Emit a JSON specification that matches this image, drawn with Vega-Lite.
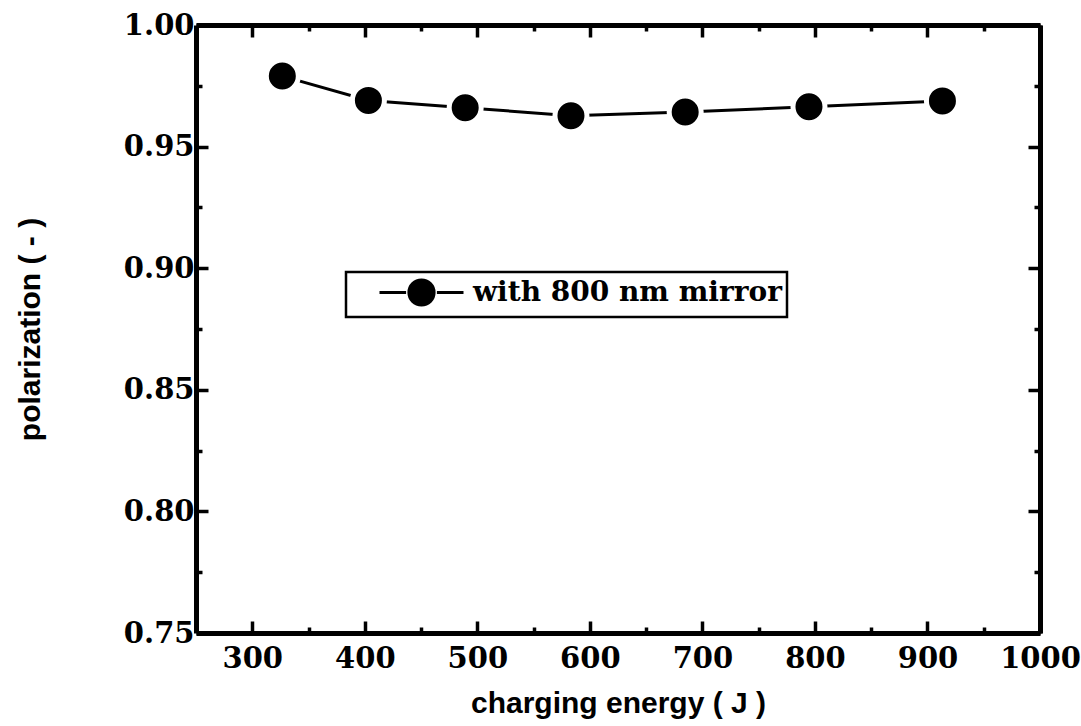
{
  "$schema": "https://vega.github.io/schema/vega-lite/v6.json",
  "width": 844,
  "height": 608,
  "autosize": {"type": "none"},
  "padding": {"left": 196, "top": 25, "right": 41, "bottom": 93},
  "background": "white",
  "config": {
    "view": {"stroke": null},
    "legend": {"strokeWidth": 2.5},
    "axis": {
      "grid": false,
      "domainColor": "black",
      "domainWidth": 5,
      "tickColor": "black",
      "tickWidth": 3.5,
      "labelColor": "black",
      "labelFont": "DejaVu Serif",
      "labelFontWeight": "bold",
      "labelFontSize": 29,
      "labelFlush": false,
      "labelOverlap": false,
      "titleColor": "black",
      "titleFont": "Liberation Sans",
      "titleFontWeight": "bold",
      "titleFontSize": 30
    }
  },
  "data": {
    "values": [
      {"energy": 326.7, "polarization": 0.979, "series": "with 800 nm mirror"},
      {"energy": 403.2, "polarization": 0.969, "series": "with 800 nm mirror"},
      {"energy": 489.2, "polarization": 0.966, "series": "with 800 nm mirror"},
      {"energy": 583.2, "polarization": 0.9627, "series": "with 800 nm mirror"},
      {"energy": 684.7, "polarization": 0.9642, "series": "with 800 nm mirror"},
      {"energy": 794.7, "polarization": 0.9664, "series": "with 800 nm mirror"},
      {"energy": 913.3, "polarization": 0.9688, "series": "with 800 nm mirror"}
    ]
  },
  "layer": [
    {
      "mark": {"type": "line", "color": "black", "strokeWidth": 3},
      "encoding": {
        "x": {
          "field": "energy", "type": "quantitative",
          "scale": {"domain": [250, 1000], "nice": false, "zero": false},
          "axis": {
            "orient": "top", "title": null, "labels": false,
            "values": [300, 350, 400, 450, 500, 550, 600, 650, 700, 750, 800, 850, 900, 950, 1000],
            "tickSize": {"condition": {"test": "datum.value % 100 === 0", "value": -12}, "value": -6}
          }
        },
        "y": {
          "field": "polarization", "type": "quantitative",
          "scale": {"domain": [0.75, 1.0], "nice": false, "zero": false},
          "axis": {
            "orient": "right", "title": null, "labels": false,
            "values": [0.75, 0.775, 0.8, 0.825, 0.85, 0.875, 0.9, 0.925, 0.95, 0.975, 1.0],
            "tickSize": {"condition": {"test": "abs(datum.value*20 - round(datum.value*20)) < 0.001", "value": -12}, "value": -6}
          }
        }
      }
    },
    {
      "mark": {"type": "point", "filled": true, "size": 1024, "stroke": "white", "strokeWidth": 5, "opacity": 1},
      "encoding": {
        "x": {
          "field": "energy", "type": "quantitative",
          "scale": {"domain": [250, 1000], "nice": false, "zero": false},
          "axis": {
            "orient": "bottom", "title": "charging energy ( J )",
            "values": [300, 350, 400, 450, 500, 550, 600, 650, 700, 750, 800, 850, 900, 950, 1000],
            "labelExpr": "datum.value % 100 === 0 ? format(datum.value, 'd') : ''",
            "labelPadding": 23,
            "titlePadding": 9,
            "tickSize": {"condition": {"test": "datum.value % 100 === 0", "value": -12}, "value": -6}
          }
        },
        "y": {
          "field": "polarization", "type": "quantitative",
          "scale": {"domain": [0.75, 1.0], "nice": false, "zero": false},
          "axis": {
            "orient": "left", "title": "polarization ( - )",
            "values": [0.75, 0.775, 0.8, 0.825, 0.85, 0.875, 0.9, 0.925, 0.95, 0.975, 1.0],
            "labelExpr": "abs(datum.value*20 - round(datum.value*20)) < 0.001 ? format(datum.value, '.2f') : ''",
            "labelPadding": 14,
            "titlePadding": 78,
            "tickSize": {"condition": {"test": "abs(datum.value*20 - round(datum.value*20)) < 0.001", "value": -12}, "value": -6}
          }
        },
        "color": {
          "field": "series", "type": "nominal",
          "scale": {"range": ["black"]},
          "legend": {
            "title": null,
            "orient": "none",
            "legendX": 150,
            "legendY": 247,
            "padding": 5,
            "strokeColor": "black",
            "symbolType": "M-3,0H-1.1M1.1,0H3M-0.9,0A0.9,0.9,0,1,1,0.9,0A0.9,0.9,0,1,1,-0.9,0Z",
            "symbolSize": 784,
            "symbolOffset": 55,
            "labelOffset": 36,
            "symbolFillColor": "black",
            "symbolStrokeColor": "black",
            "symbolStrokeWidth": 3,
            "labelFont": "DejaVu Serif",
            "labelFontWeight": "bold",
            "labelFontSize": 28,
            "labelColor": "black",
            "labelLimit": 0,
            "encode": {
              "legend": {"update": {"strokeWidth": {"value": 2.5}, "stroke": {"value": "black"}}},
              "symbols": {"update": {"stroke": {"value": "black"}, "strokeWidth": {"value": 3}, "fill": {"value": "black"}, "size": {"value": 784}}}
            }
          }
        }
      }
    }
  ],
  "resolve": {"axis": {"x": "independent", "y": "independent"}}
}
